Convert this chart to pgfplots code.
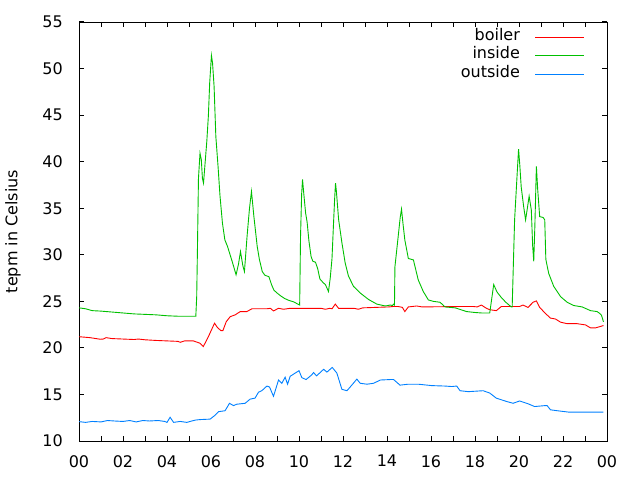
\documentclass[border=0pt]{standalone}
\usepackage{pgfplots}
\pgfplotsset{compat=1.18}
\usepackage{fontspec}
\setmainfont{DejaVu Sans}
\newcommand\fs{\fontsize{16bp}{19bp}\selectfont}
\definecolor{gpred}{RGB}{255,0,0}
\definecolor{gpgreen}{RGB}{0,192,0}
\definecolor{gpblue}{RGB}{0,128,255}
\begin{document}
\fs
\begin{tikzpicture}
\useasboundingbox (0,0) rectangle (640bp,480bp);
\begin{axis}[
  at={(79bp,39bp)}, anchor=south west,
  scale only axis, width=528bp, height=419bp,
  xmin=0, xmax=24, ymin=10, ymax=55,
  xtick={0,2,...,24},
  xticklabels={00,02,04,06,08,10,12,14,16,18,20,22,00},
  ytick={10,15,...,55},
  major tick length=0pt, minor tick length=0pt,
  axis line style={line width=0.9bp},
  /pgf/number format/assume math mode=true,
  tick label style={font=\fs},
  yticklabel style={inner sep=0pt, xshift=-16bp},
  xticklabel style={inner sep=0pt, yshift=-14bp},
  ylabel={tepm in Celsius},
  every axis y label/.style={at={(axis description cs:-0.125,0.5)}, rotate=90, anchor=center, font=\fs},
  legend plot pos=right,
  legend cell align=right,
  legend image code/.code={\draw[#1] (0bp,0bp) -- (49bp,0bp);},
  legend style={draw=none, fill=none, at={(1,1)}, anchor=north east, xshift=-22bp, yshift=-6bp,
    inner sep=0pt, column sep=15bp, row sep=0pt, font=\fs,
    nodes={inner sep=0pt, text height=12bp, text depth=6.5bp}},
  every axis plot/.append style={line width=0.9bp},
]
\pgfplotsinvokeforeach{0,1,2,3,4,5,6,7,8,9,10,11,12,13,14,15,16,17,18,19,20,21,22,23,24}{
  \draw[black, line width=1bp] (axis cs:#1,10) -- ++(0pt,5bp);
  \draw[black, line width=1bp] (axis cs:#1,55) -- ++(0pt,-5bp);
}
\pgfplotsinvokeforeach{10,15,20,25,30,35,40,45,50,55}{
  \draw[black, line width=1bp] (axis cs:0,#1) -- ++(5bp,0pt);
  \draw[black, line width=1bp] (axis cs:24,#1) -- ++(-5bp,0pt);
}
\addplot[gpred] coordinates {
(0,21.2)(0.5,21.1)(0.96,20.93)(1.1,20.95)(1.23,21.1)(1.5,21.0)(2.0,20.95)(2.5,20.9)(2.7,20.95)(3.0,20.87)(3.5,20.8)(4.0,20.75)(4.5,20.7)(4.6,20.6)(4.8,20.75)(5.2,20.75)(5.5,20.5)(5.65,20.14)(5.88,21.2)(6.16,22.65)(6.29,22.2)(6.45,21.85)(6.54,21.85)(6.69,22.8)(6.87,23.35)(7.1,23.55)(7.33,23.9)(7.63,23.9)(7.86,24.2)(8.54,24.2)(8.7,24.25)(8.84,23.97)(9.07,24.25)(9.3,24.15)(9.6,24.25)(11.0,24.25)(11.2,24.15)(11.4,24.25)(11.5,24.2)(11.65,24.7)(11.8,24.25)(12.5,24.25)(12.7,24.15)(12.9,24.3)(14.1,24.4)(14.3,24.45)(14.5,24.45)(14.7,24.35)(14.81,23.9)(14.97,24.4)(15.35,24.5)(15.6,24.4)(17.6,24.45)(17.9,24.45)(18.1,24.4)(18.29,24.6)(18.52,24.25)(18.67,24.1)(18.97,24.0)(19.2,24.45)(20.03,24.45)(20.18,24.6)(20.41,24.35)(20.64,24.9)(20.79,25.05)(20.94,24.35)(21.2,23.7)(21.43,23.2)(21.66,23.1)(21.89,22.76)(22.19,22.6)(22.64,22.6)(23.02,22.47)(23.25,22.15)(23.48,22.15)(23.7,22.3)(23.84,22.4)
};
\addlegendentry{boiler}
\addplot[gpgreen] coordinates {
(0,24.3)(0.3,24.2)(0.6,24.0)(1.0,23.95)(1.5,23.85)(2.0,23.75)(2.5,23.65)(3.0,23.6)(3.5,23.55)(4.0,23.45)(4.5,23.4)(5.0,23.4)(5.31,23.4)(5.35,25.5)(5.38,30.0)(5.43,38.2)(5.5,40.9)(5.56,40.2)(5.61,38.2)(5.66,37.7)(5.72,39.5)(5.81,42.2)(5.88,44.9)(5.94,48.45)(6.02,51.4)(6.07,50.6)(6.14,48.1)(6.22,42.7)(6.32,39.5)(6.41,36.3)(6.52,33.4)(6.63,31.6)(6.75,30.9)(6.96,29.3)(7.14,27.85)(7.25,29.0)(7.34,30.35)(7.45,28.8)(7.52,28.2)(7.64,32.0)(7.75,35.0)(7.84,36.8)(7.95,34.1)(8.1,30.9)(8.2,29.5)(8.33,28.2)(8.45,27.8)(8.63,27.65)(8.75,26.8)(8.86,26.2)(9.0,25.9)(9.16,25.6)(9.35,25.3)(9.54,25.1)(9.75,24.95)(10.03,24.6)(10.07,32)(10.12,36.5)(10.16,38.1)(10.22,36.5)(10.3,34.5)(10.37,33.5)(10.45,31.5)(10.55,29.8)(10.63,29.3)(10.75,29.2)(10.85,28.5)(10.95,27.4)(11.1,27.0)(11.2,26.8)(11.34,26.05)(11.42,27.5)(11.5,29.6)(11.57,33.4)(11.62,36.0)(11.66,37.7)(11.7,36.8)(11.8,33.8)(11.95,31.3)(12.1,29.1)(12.25,27.7)(12.48,26.6)(12.78,25.9)(13.16,25.2)(13.54,24.7)(13.92,24.5)(14.15,24.6)(14.25,24.55)(14.3,24.7)(14.34,24.6)(14.36,28.7)(14.51,32)(14.6,34)(14.66,34.9)(14.72,33.5)(14.81,31.6)(14.97,29.6)(15.2,29.45)(15.42,27.3)(15.65,26.05)(15.88,25.15)(16.1,25.0)(16.41,24.9)(16.64,24.4)(17.1,24.3)(17.62,23.9)(18.0,23.8)(18.3,23.75)(18.67,23.75)(18.85,26.8)(19.0,26.0)(19.2,25.4)(19.4,24.9)(19.65,24.4)(19.69,24.4)(19.8,33.75)(19.9,38)(19.98,41.35)(20.04,39.5)(20.1,37.3)(20.21,35.2)(20.3,33.75)(20.38,35)(20.46,36.3)(20.56,34.8)(20.62,31)(20.67,29.3)(20.72,33)(20.79,39.5)(20.85,37)(20.94,34.1)(21.1,34.0)(21.17,33.75)(21.22,29.5)(21.35,28.0)(21.58,26.6)(21.89,25.5)(22.19,24.9)(22.49,24.55)(22.87,24.4)(23.25,24.0)(23.55,23.9)(23.67,23.7)(23.75,23.5)(23.84,22.8)
};
\addlegendentry{inside}
\addplot[gpblue] coordinates {
(0,12.08)(0.3,12.0)(0.6,12.1)(1.0,12.05)(1.3,12.2)(1.6,12.15)(2.0,12.1)(2.3,12.2)(2.6,12.05)(2.9,12.2)(3.2,12.15)(3.6,12.2)(3.9,12.1)(4.0,12.0)(4.14,12.55)(4.3,12.0)(4.6,12.1)(4.9,12.0)(5.05,12.1)(5.3,12.25)(5.5,12.3)(5.96,12.35)(6.15,12.7)(6.34,13.15)(6.64,13.25)(6.84,14.05)(7.02,13.8)(7.17,13.95)(7.55,14.05)(7.78,14.5)(8.0,14.6)(8.16,15.24)(8.31,15.4)(8.54,15.9)(8.66,15.8)(8.84,14.8)(9.07,16.55)(9.22,16.2)(9.37,16.85)(9.48,16.1)(9.6,16.95)(9.83,17.3)(10.0,17.55)(10.13,16.8)(10.32,16.6)(10.58,17.1)(10.66,17.35)(10.8,17.0)(11.12,17.7)(11.27,17.4)(11.51,17.9)(11.72,17.3)(11.95,15.55)(12.18,15.4)(12.4,16.0)(12.63,16.65)(12.78,16.2)(13.09,16.1)(13.39,16.2)(13.7,16.55)(14.15,16.6)(14.3,16.6)(14.59,16.0)(14.97,16.1)(15.42,16.1)(16.03,15.95)(16.64,15.9)(16.94,15.85)(17.17,15.9)(17.32,15.4)(17.7,15.3)(18.37,15.4)(18.67,15.15)(18.97,14.6)(19.43,14.25)(19.73,14.05)(20.03,14.3)(20.41,14.0)(20.71,13.7)(21.17,13.8)(21.28,13.8)(21.43,13.35)(21.74,13.25)(22.27,13.1)(23.84,13.1)
};
\addlegendentry{outside}
\end{axis}
\end{tikzpicture}
\end{document}
